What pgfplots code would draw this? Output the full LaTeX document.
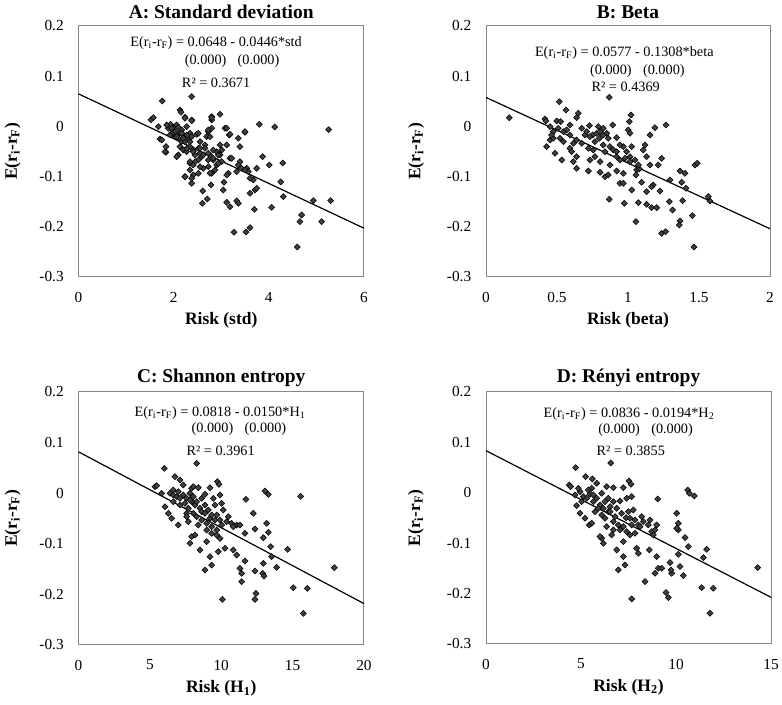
\documentclass[border=0pt]{standalone}
\usepackage{fontspec}
\setmainfont{Liberation Serif}
\usepackage{pgfplots}
\pgfplotsset{compat=1.18}
\definecolor{framegray}{RGB}{134,134,134}
\definecolor{markgray}{RGB}{64,64,64}
\tikzset{eq/.style={font=\fontsize{10.7}{12}\selectfont, inner sep=0pt, anchor=center}}
\pgfplotsset{
  riskpanel/.style={
    scale only axis,
    anchor=north west,
    ymin=-0.3, ymax=0.2,
    ytick={-0.3,-0.2,-0.1,0,0.1,0.2},
    yticklabels={-0.3,-0.2,-0.1,0,0.1,0.2},
    major tick length=0pt,
    axis line style={draw=framegray, line width=0.75pt},
    tick label style={font=\fontsize{11.5}{13}\selectfont},
    yticklabel style={anchor=east, inner sep=0pt, xshift=-10.9pt},
    xticklabel style={anchor=north, inner sep=0pt, yshift=-11pt},
    every axis title/.style={font=\bfseries\fontsize{14.6}{17}\selectfont, anchor=center, inner sep=0pt, at={(axis description cs:0.5,1.056)}},
    xlabel style={font=\bfseries\fontsize{13.1}{15}\selectfont, anchor=center, inner sep=0pt, at={(axis description cs:0.5,-0.171)}},
    ylabel style={font=\bfseries\fontsize{13.1}{15}\selectfont, anchor=center, inner sep=0pt},
    ylabel={E(r\textsubscript{i}-r\textsubscript{F})},
    clip=false,
  },
  pts/.style={only marks, mark=square*, mark size=1.6pt, mark options={rotate=45, fill=markgray, draw=none}},
  fitline/.style={black, line width=0.9pt, no marks},
}
\begin{document}
\begin{tikzpicture}
\useasboundingbox (0,0) rectangle (586.5pt,-528.75pt);
% ---------------- A ----------------
\begin{axis}[riskpanel, at={(58.875pt,-19.5pt)}, width=214.1pt, height=188.25pt,
  xmin=0, xmax=6, xtick={0,2,4,6}, xticklabels={0,2,4,6},
  title={A: Standard deviation}, xlabel={Risk (std)},
  ylabel style={at={(axis description cs:-0.231,0.5)}}]
\addplot[pts] table[row sep=\\] {
x y\\
1.762 0.0506\\ 2.379 0.0593\\ 1.524 0.0134\\ 1.573 0.0174\\ 2.133 0.0327\\ 2.154 0.0281\\
2.238 0.0181\\ 2.379 0.0128\\ 2.799 0.0194\\ 2.799 0.0128\\ 2.974 0.0241\\ 1.678 -0.0005\\
1.713 -0.0251\\ 1.839 -0.0403\\ 1.839 -0.0516\\ 1.888 -0.0038\\ 1.958 -0.0005\\ 1.993 -0.0071\\
2.028 -0.0105\\ 2.063 0.0028\\ 2.098 -0.0025\\ 2.133 -0.0138\\ 2.168 -0.0071\\ 2.203 -0.0171\\
2.028 -0.0204\\ 1.958 -0.0138\\ 2.098 -0.0237\\ 2.168 -0.0304\\ 2.273 -0.0237\\ 2.343 -0.0138\\
2.379 -0.0204\\ 2.484 -0.0158\\ 2.554 -0.0304\\ 2.659 -0.0370\\ 2.694 -0.0204\\ 2.729 -0.0105\\
2.799 -0.0038\\ 2.133 -0.0403\\ 2.203 -0.0470\\ 2.098 -0.0569\\ 2.273 -0.0503\\ 2.343 -0.0403\\
2.414 -0.0470\\ 2.449 -0.0569\\ 2.519 -0.0669\\ 2.589 -0.0603\\ 2.659 -0.0437\\ 2.764 -0.0569\\
2.834 -0.0669\\ 2.904 -0.0503\\ 2.974 -0.0370\\ 2.974 -0.0569\\ 3.009 -0.0702\\ 3.114 -0.0370\\
3.079 -0.0038\\ 3.170 -0.0171\\ 3.359 -0.0237\\ 3.394 -0.0403\\ 3.499 -0.0118\\ 3.801 0.0042\\
4.123 -0.0012\\ 5.258 -0.0065\\ 2.343 -0.0735\\ 2.449 -0.0702\\ 2.238 -0.1001\\ 2.343 -0.0868\\
2.414 -0.0968\\ 2.379 -0.1134\\ 2.519 -0.0935\\ 2.624 -0.0835\\ 2.729 -0.0802\\ 2.799 -0.0935\\
2.869 -0.0868\\ 2.904 -0.0769\\ 3.149 -0.0935\\ 3.184 -0.0636\\ 3.394 -0.0702\\ 3.429 -0.0835\\
3.324 -0.0901\\ 3.535 -0.0835\\ 3.570 -0.0901\\ 3.675 -0.1067\\ 3.871 -0.0603\\ 4.011 -0.0769\\
4.291 -0.0729\\ 4.249 -0.1107\\ 4.305 -0.1399\\ 3.605 -0.1333\\ 3.710 -0.1267\\ 3.745 -0.1233\\
2.610 -0.1287\\ 2.785 -0.1167\\ 3.044 -0.1267\\ 3.058 -0.1114\\ 2.603 -0.1532\\ 2.708 -0.1446\\
3.114 -0.1512\\ 3.184 -0.1599\\ 3.324 -0.1486\\ 3.359 -0.1532\\ 3.696 -0.1652\\ 4.060 -0.1612\\
3.268 -0.2110\\ 3.521 -0.2103\\ 3.605 -0.2017\\ 4.599 -0.2402\\ 4.690 -0.1765\\ 4.655 -0.1897\\
4.936 -0.1479\\ 5.111 -0.1897\\ 5.300 -0.1479\\ 1.937 0.0041\\ 2.273 -0.0005\\ 2.519 -0.0437\\
2.834 -0.0470\\ 2.554 -0.0536\\ 2.729 -0.0669\\ 2.939 -0.0735\\ 2.414 -0.0769\\ 2.238 -0.0304\\
2.238 0.0161\\ 2.379 0.0114\\ 2.799 0.0173\\ 1.854 0.0028\\ 1.959 -0.0038\\ 1.923 -0.0171\\
2.064 -0.0205\\ 2.169 -0.0138\\ 2.203 -0.0237\\ 2.274 -0.0171\\ 2.343 -0.0305\\ 2.518 -0.0138\\
2.728 -0.0072\\ 2.764 -0.0205\\ 3.115 -0.0038\\ 3.184 -0.0157\\ 3.499 -0.0105\\ 1.749 -0.0271\\
1.818 -0.0504\\ 2.064 -0.0604\\ 2.274 -0.0436\\ 2.413 -0.0504\\ 2.554 -0.0436\\ 2.623 -0.0570\\
2.728 -0.0536\\ 2.833 -0.0636\\ 2.938 -0.0570\\ 3.010 -0.0470\\ 2.343 -0.0703\\ 2.554 -0.0803\\
2.239 -0.1002\\ 2.379 -0.1034\\ 2.764 -0.0934\\ 3.115 -0.0968\\ 3.220 -0.0636\\ 3.359 -0.0769\\
3.499 -0.0869\\ 3.604 -0.1034\\ 3.745 -0.0835\\
};
\addplot[fitline] coordinates {(0,0.0648) (6,-0.2028)};
\node[eq] at (rel axis cs:0.482,0.932) {E(r\textsubscript{i}-r\textsubscript{F}) = 0.0648 - 0.0446*std};
\node[eq] at (rel axis cs:0.538,0.862) {(0.000)\hspace{8.5pt}(0.000)};
\node[eq] at (rel axis cs:0.482,0.774) {R² = 0.3671};
\end{axis}
% ---------------- B ----------------
\begin{axis}[riskpanel, at={(364.5pt,-19.5pt)}, width=213pt, height=188.25pt,
  xmin=0, xmax=2, xtick={0,0.5,1,1.5,2}, xticklabels={0,0.5,1,1.5,2},
  title={B: Beta}, xlabel={Risk (beta)},
  ylabel style={at={(axis description cs:-0.246,0.5)}}]
\addplot[pts] table[row sep=\\] {
x y\\
0.164 0.0173\\ 0.516 0.0493\\ 0.868 0.0579\\ 0.563 0.0327\\ 0.650 0.0261\\ 0.638 0.0174\\
0.415 0.0148\\ 0.498 0.0108\\ 0.526 0.0095\\ 1.021 0.0227\\ 1.009 0.0095\\ 0.422 0.0108\\
0.451 -0.0005\\ 0.591 0.0028\\ 0.674 -0.0038\\ 0.728 0.0015\\ 0.751 -0.0171\\ 0.779 -0.0138\\
0.803 -0.0105\\ 0.850 -0.0138\\ 0.892 0.0028\\ 1.002 -0.0071\\ 1.014 -0.0138\\ 1.190 -0.0025\\
1.267 0.0028\\ 0.509 -0.0038\\ 0.545 -0.0105\\ 0.474 -0.0105\\ 0.451 -0.0271\\ 0.474 -0.0237\\
0.521 -0.0237\\ 0.545 -0.0304\\ 0.591 -0.0171\\ 0.615 -0.0337\\ 0.697 -0.0171\\ 0.732 -0.0204\\
0.798 -0.0237\\ 0.826 -0.0171\\ 0.861 -0.0237\\ 0.920 -0.0224\\ 1.155 -0.0171\\ 0.709 -0.0105\\
0.427 -0.0403\\ 0.486 -0.0536\\ 0.591 -0.0437\\ 0.603 -0.0503\\ 0.721 -0.0437\\ 0.756 -0.0470\\
0.826 -0.0370\\ 0.873 -0.0403\\ 0.897 -0.0470\\ 0.967 -0.0403\\ 1.026 -0.0403\\ 1.108 -0.0470\\
1.120 -0.0370\\ 0.533 -0.0669\\ 0.615 -0.0702\\ 0.638 -0.0603\\ 0.732 -0.0669\\ 0.803 -0.0702\\
0.873 -0.0769\\ 0.920 -0.0603\\ 0.943 -0.0669\\ 0.979 -0.0636\\ 1.014 -0.0603\\ 1.049 -0.0669\\
1.131 -0.0603\\ 1.155 -0.0769\\ 1.213 -0.0769\\ 1.237 -0.0636\\ 0.721 -0.0888\\ 0.803 -0.0915\\
0.838 -0.1001\\ 0.861 -0.0968\\ 0.920 -0.0888\\ 0.967 -0.0935\\ 1.061 -0.0868\\ 1.080 -0.0848\\
1.056 -0.0968\\ 1.296 -0.1067\\ 1.366 -0.0888\\ 1.401 -0.0935\\ 1.472 -0.0769\\ 1.488 -0.0735\\
0.943 -0.1134\\ 0.967 -0.1134\\ 1.096 -0.1114\\ 1.178 -0.1167\\ 1.166 -0.1200\\ 1.131 -0.1300\\
1.225 -0.1287\\ 1.378 -0.1114\\ 1.408 -0.1233\\ 1.026 -0.1267\\ 1.565 -0.1399\\ 0.868 -0.1453\\
0.974 -0.1532\\ 1.073 -0.1519\\ 1.131 -0.1552\\ 1.166 -0.1619\\ 1.202 -0.1619\\ 1.291 -0.1499\\
1.385 -0.1479\\ 1.314 -0.1665\\ 1.577 -0.1486\\ 1.056 -0.1897\\ 1.366 -0.1884\\ 1.361 -0.1964\\
1.453 -0.1778\\ 1.237 -0.2130\\ 1.265 -0.2097\\ 1.465 -0.2402\\
0.462 -0.0171\\ 0.568 -0.0071\\ 0.638 -0.0271\\ 0.674 -0.0337\\ 0.767 -0.0304\\ 0.838 -0.0503\\
0.920 -0.0503\\ 0.943 -0.0370\\ 0.990 -0.0503\\ 1.014 -0.0702\\ 1.073 -0.0769\\ 0.638 -0.0835\\
0.767 -0.0603\\ 0.791 -0.0005\\ 0.826 -0.0038\\
};
\addplot[fitline] coordinates {(0,0.0577) (2,-0.2039)};
\node[eq] at (rel axis cs:0.487,0.891) {E(r\textsubscript{i}-r\textsubscript{F}) = 0.0577 - 0.1308*beta};
\node[eq] at (rel axis cs:0.533,0.822) {(0.000)\hspace{8.5pt}(0.000)};
\node[eq] at (rel axis cs:0.492,0.756) {R² = 0.4369};
\end{axis}
% ---------------- C ----------------
\begin{axis}[riskpanel, at={(58.875pt,-294pt)}, width=214.1pt, height=189.75pt,
  xmin=0, xmax=20, xtick={0,5,10,15,20}, xticklabels={0,5,10,15,20},
  title={C: Shannon entropy}, xlabel={Risk (H\textsubscript{1})},
  ylabel style={at={(axis description cs:-0.231,0.5)}}]
\addplot[pts] table[row sep=\\] {
x y\\
6.013 0.0491\\ 8.278 0.0590\\ 6.760 0.0327\\ 7.110 0.0261\\ 7.344 0.0162\\ 7.927 0.0096\\
8.044 0.0129\\ 8.394 0.0109\\ 9.212 0.0109\\ 9.725 0.0228\\ 9.842 0.0175\\ 5.359 0.0129\\
5.476 0.0149\\ 5.826 -0.0003\\ 6.410 -0.0003\\ 6.643 -0.0036\\ 6.877 -0.0069\\ 7.110 -0.0102\\
7.344 -0.0036\\ 7.811 -0.0003\\ 8.044 -0.0069\\ 8.861 -0.0023\\ 9.445 -0.0102\\ 9.912 -0.0036\\
13.064 0.0043\\ 13.298 -0.0023\\ 11.733 -0.0122\\ 15.563 -0.0062\\ 6.059 -0.0267\\ 6.293 -0.0398\\
6.526 -0.0497\\ 6.993 -0.0629\\ 7.110 -0.0234\\ 7.460 -0.0201\\ 7.694 -0.0299\\ 7.927 -0.0168\\
8.161 -0.0234\\ 8.511 -0.0299\\ 8.861 -0.0234\\ 9.095 -0.0332\\ 9.562 -0.0234\\ 10.029 -0.0201\\
10.146 -0.0332\\ 10.496 -0.0464\\ 12.247 -0.0398\\ 8.044 -0.0398\\ 8.278 -0.0464\\ 8.628 -0.0530\\
8.978 -0.0596\\ 9.328 -0.0662\\ 9.679 -0.0728\\ 10.029 -0.0629\\ 10.729 -0.0596\\ 11.080 -0.0629\\
11.313 -0.0629\\ 11.663 -0.0794\\ 12.364 -0.0708\\ 13.181 -0.0596\\ 12.948 -0.0879\\ 13.298 -0.0774\\
7.927 -0.0860\\ 8.161 -0.0827\\ 7.811 -0.0991\\ 8.978 -0.0958\\ 9.328 -0.0794\\ 9.912 -0.0893\\
8.511 -0.1123\\ 9.795 -0.1156\\ 10.262 -0.1090\\ 10.846 -0.1123\\ 11.080 -0.1222\\ 11.663 -0.1341\\
13.461 -0.1057\\ 14.652 -0.1110\\ 13.531 -0.1255\\ 12.948 -0.1387\\ 13.882 -0.1466\\ 12.364 -0.1538\\
12.901 -0.1584\\ 12.994 -0.1637\\ 11.313 -0.1486\\ 11.430 -0.1584\\ 11.430 -0.1749\\ 9.212 -0.1255\\
9.328 -0.1420\\ 8.861 -0.1519\\ 17.921 -0.1472\\ 15.049 -0.1868\\ 16.030 -0.1881\\ 12.434 -0.1980\\
12.364 -0.2099\\ 10.075 -0.2099\\ 15.750 -0.2375\\ 6.643 -0.0168\\ 7.577 -0.0398\\ 8.628 -0.0102\\
9.679 -0.0431\\ 9.212 -0.0497\\
6.643 0.0063\\ 6.993 0.0030\\ 7.577 -0.0102\\ 7.811 -0.0135\\ 8.278 -0.0168\\ 8.628 -0.0365\\
8.861 -0.0398\\ 9.328 -0.0431\\ 9.562 -0.0530\\ 9.912 -0.0530\\ 10.379 -0.0563\\ 10.846 -0.0662\\
7.577 -0.0464\\ 7.694 -0.0563\\ 8.394 -0.0629\\ 8.978 -0.0728\\ 9.679 -0.0827\\
};
\addplot[fitline] coordinates {(0,0.0818) (20,-0.2182)};
\node[eq] at (rel axis cs:0.496,0.916) {E(r\textsubscript{i}-r\textsubscript{F}) = 0.0818 - 0.0150*H\textsubscript{1}};
\node[eq] at (rel axis cs:0.562,0.854) {(0.000)\hspace{8.5pt}(0.000)};
\node[eq] at (rel axis cs:0.498,0.768) {R² = 0.3961};
\end{axis}
% ---------------- D ----------------
\begin{axis}[riskpanel, at={(364.5pt,-294pt)}, width=213.75pt, height=189pt,
  xmin=0, xmax=15, xtick={0,5,10,15}, xticklabels={0,5,10,15},
  title={D: Rényi entropy}, xlabel={Risk (H\textsubscript{2})},
  ylabel style={at={(axis description cs:-0.246,0.5)}}]
\addplot[pts] table[row sep=\\] {
x y\\
4.720 0.0499\\ 6.562 0.0591\\ 4.386 0.0155\\ 4.456 0.0122\\ 5.246 0.0320\\ 5.597 0.0274\\
5.825 0.0188\\ 5.562 0.0089\\ 6.351 0.0122\\ 6.702 0.0102\\ 7.228 0.0102\\ 7.527 0.0234\\
7.632 0.0168\\ 10.614 0.0056\\ 10.702 -0.0010\\ 10.965 -0.0063\\ 9.035 -0.0123\\ 4.684 -0.0043\\
4.948 0.0023\\ 5.123 -0.0076\\ 5.299 -0.0109\\ 5.474 -0.0030\\ 5.649 -0.0175\\ 5.825 -0.0109\\
6.000 -0.0242\\ 6.263 -0.0175\\ 6.439 -0.0109\\ 6.527 -0.0275\\ 6.702 -0.0175\\ 7.053 -0.0162\\
7.404 -0.0109\\ 7.667 -0.0076\\ 4.772 -0.0255\\ 5.035 -0.0175\\ 4.948 -0.0407\\ 5.211 -0.0506\\
5.439 -0.0638\\ 5.562 -0.0605\\ 5.737 -0.0374\\ 5.913 -0.0308\\ 6.088 -0.0440\\ 6.263 -0.0506\\
6.439 -0.0374\\ 6.702 -0.0572\\ 6.790 -0.0473\\ 6.965 -0.0638\\ 7.228 -0.0671\\ 7.369 -0.0493\\
7.492 -0.0374\\ 7.755 -0.0341\\ 8.193 -0.0473\\ 8.018 -0.0638\\ 7.667 -0.0638\\ 7.579 -0.0836\\
7.842 -0.0803\\ 8.106 -0.0671\\ 8.544 -0.0638\\ 8.720 -0.0770\\ 8.895 -0.0737\\ 8.983 -0.0638\\
10.035 -0.0407\\ 10.123 -0.0605\\ 10.123 -0.0737\\ 10.035 -0.0704\\ 10.474 -0.0889\\ 10.649 -0.1068\\
6.088 -0.0903\\ 6.176 -0.1002\\ 6.614 -0.0836\\ 6.000 -0.0869\\ 7.228 -0.0969\\ 7.404 -0.0770\\
6.878 -0.1134\\ 7.228 -0.1266\\ 7.316 -0.1431\\ 6.965 -0.1530\\ 7.930 -0.1101\\ 8.018 -0.1200\\
8.597 -0.1134\\ 8.983 -0.1266\\ 9.070 -0.1497\\ 9.246 -0.1497\\ 8.895 -0.1597\\ 9.685 -0.1385\\
9.772 -0.1597\\ 9.737 -0.1530\\ 10.123 -0.1220\\ 10.211 -0.1464\\ 10.386 -0.1643\\ 11.439 -0.1286\\
11.614 -0.1121\\ 8.369 -0.1762\\ 7.667 -0.2106\\ 9.474 -0.1980\\ 9.597 -0.2079\\ 11.351 -0.1881\\
11.965 -0.1894\\ 11.790 -0.2390\\ 14.299 -0.1484\\
4.860 0.0089\\ 5.386 0.0056\\ 5.649 -0.0043\\ 6.088 -0.0010\\ 6.176 -0.0308\\ 6.527 -0.0374\\
6.878 -0.0308\\ 7.140 -0.0407\\ 7.579 -0.0506\\ 7.842 -0.0539\\ 8.281 -0.0572\\ 8.632 -0.0539\\
8.807 -0.0836\\ 7.053 -0.0737\\ 6.351 -0.0671\\ 6.702 -0.0737\\
};
\addplot[fitline] coordinates {(0,0.0836) (15,-0.2074)};
\node[eq] at (rel axis cs:0.502,0.913) {E(r\textsubscript{i}-r\textsubscript{F}) = 0.0836 - 0.0194*H\textsubscript{2}};
\node[eq] at (rel axis cs:0.560,0.849) {(0.000)\hspace{8.5pt}(0.000)};
\node[eq] at (rel axis cs:0.508,0.767) {R² = 0.3855};
\end{axis}
\end{tikzpicture}
\end{document}
